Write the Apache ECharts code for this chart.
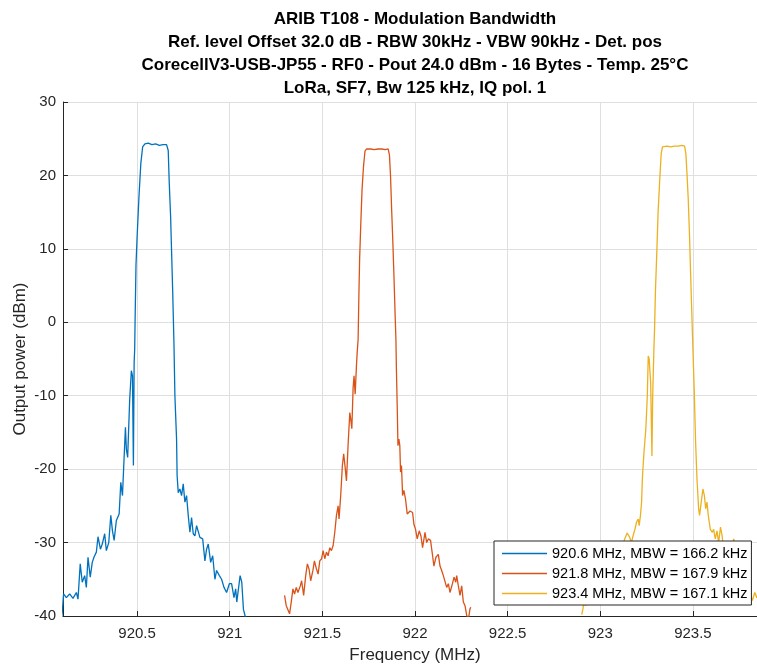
<!DOCTYPE html>
<html>
<head>
<meta charset="utf-8">
<title>ARIB T108 - Modulation Bandwidth</title>
<script src="https://cdn.jsdelivr.net/npm/echarts@6/dist/echarts.min.js"></script>
<style>
  html, body { margin: 0; padding: 0; background: #fff; }
  #chart { width: 757px; height: 664px; }
</style>
</head>
<body>
<div id="chart"></div>
<script>
// title lines
const titleLines = [
  "ARIB T108 - Modulation Bandwidth",
  "Ref. level Offset 32.0 dB - RBW 30kHz - VBW 90kHz - Det. pos",
  "CorecellV3-USB-JP55 - RF0 - Pout 24.0 dBm - 16 Bytes - Temp. 25°C",
  "LoRa, SF7, Bw 125 kHz, IQ pol. 1",
];

const legendLabels = [
  "920.6 MHz, MBW = 166.2 kHz",
  "921.8 MHz, MBW = 167.9 kHz",
  "923.4 MHz, MBW = 167.1 kHz",
];

// [frequency MHz, power dBm]
const trace9206 = [
  [920.085, -41.5], [920.096, -39.5], [920.103, -37.0], [920.118, -37.5], [920.136, -37.0],
  [920.154, -37.6], [920.172, -36.8], [920.181, -37.7], [920.193, -32.9], [920.204, -35.4],
  [920.217, -34.5], [920.226, -36.1], [920.235, -32.0], [920.247, -34.7], [920.258, -32.7],
  [920.267, -32.0], [920.280, -31.3], [920.289, -29.2], [920.302, -30.9], [920.312, -30.2],
  [920.325, -28.8], [920.334, -31.1], [920.347, -30.0], [920.358, -26.3], [920.367, -28.4],
  [920.376, -29.7], [920.388, -27.0], [920.403, -26.1], [920.412, -21.8], [920.421, -23.6],
  [920.428, -19.5], [920.437, -14.3], [920.442, -17.3], [920.449, -18.4], [920.460, -10.5],
  [920.469, -6.6], [920.475, -7.3], [920.480, -19.5], [920.484, -5.5], [920.487, -3.6],
  [920.489, 0.0], [920.494, 7.8], [920.500, 11.6], [920.510, 17.1], [920.520, 21.6],
  [920.530, 23.9], [920.542, 24.3], [920.560, 24.4], [920.580, 24.2], [920.600, 24.3],
  [920.620, 24.1], [920.640, 24.2], [920.659, 24.2], [920.668, 23.4], [920.673, 19.3],
  [920.681, 14.3], [920.686, 9.7], [920.692, 4.3], [920.699, -3.0], [920.704, -10.0],
  [920.713, -15.9], [920.716, -20.9], [920.722, -23.2], [920.731, -22.7], [920.740, -23.6],
  [920.749, -22.0], [920.758, -24.5], [920.767, -23.6], [920.776, -26.3], [920.785, -28.6],
  [920.794, -26.6], [920.803, -28.8], [920.812, -29.1], [920.821, -27.7], [920.839, -29.3],
  [920.854, -29.5], [920.866, -32.5], [920.875, -30.9], [920.884, -30.2], [920.897, -32.7],
  [920.908, -31.8], [920.920, -35.0], [920.929, -33.8], [920.944, -34.5], [920.956, -35.0],
  [920.969, -36.1], [920.983, -36.8], [920.998, -35.6], [921.010, -35.6], [921.023, -37.5],
  [921.032, -36.3], [921.038, -38.1], [921.047, -36.3], [921.056, -34.5], [921.065, -35.4],
  [921.074, -39.1], [921.083, -40.0], [921.095, -41.5],
];

const trace9218 = [
  [921.296, -37.2], [921.305, -38.6], [921.314, -38.4], [921.323, -39.7], [921.332, -38.1],
  [921.341, -36.3], [921.350, -37.0], [921.359, -36.1], [921.368, -36.8], [921.381, -35.9],
  [921.388, -35.2], [921.399, -37.2], [921.410, -34.5], [921.419, -32.9], [921.428, -33.6],
  [921.437, -35.2], [921.449, -33.8], [921.457, -32.5], [921.468, -33.6], [921.477, -34.3],
  [921.486, -32.5], [921.496, -32.2], [921.504, -31.1], [921.513, -32.2], [921.522, -31.3],
  [921.531, -31.8], [921.540, -30.7], [921.549, -31.1], [921.558, -30.4], [921.567, -28.6],
  [921.576, -26.3], [921.585, -25.0], [921.590, -26.8], [921.599, -23.6], [921.608, -19.5],
  [921.615, -17.9], [921.623, -19.8], [921.630, -21.6], [921.639, -16.6], [921.648, -12.3],
  [921.653, -13.2], [921.659, -14.5], [921.666, -8.9], [921.671, -7.3], [921.677, -9.8],
  [921.684, -5.9], [921.688, -4.1], [921.693, -2.3], [921.697, 3.5], [921.701, 8.5],
  [921.707, 13.1], [921.714, 18.0], [921.722, 21.2], [921.730, 23.3], [921.738, 23.6],
  [921.760, 23.6], [921.780, 23.5], [921.800, 23.6], [921.820, 23.6], [921.840, 23.5],
  [921.855, 23.6], [921.862, 22.8], [921.868, 19.9], [921.874, 15.3], [921.880, 11.2],
  [921.887, 5.8], [921.893, 0.8], [921.897, -2.3], [921.900, -6.8], [921.904, -11.4],
  [921.908, -16.8], [921.913, -15.9], [921.918, -16.8], [921.922, -20.4], [921.927, -19.5],
  [921.933, -23.6], [921.940, -22.9], [921.949, -24.1], [921.958, -26.1], [921.973, -25.7],
  [921.987, -25.9], [921.994, -27.5], [922.003, -28.2], [922.012, -29.5], [922.023, -28.4],
  [922.032, -29.1], [922.041, -30.7], [922.054, -28.6], [922.063, -30.0], [922.072, -29.5],
  [922.084, -29.7], [922.095, -31.8], [922.102, -33.2], [922.113, -32.0], [922.126, -31.6],
  [922.135, -33.2], [922.144, -33.8], [922.153, -34.5], [922.162, -34.7], [922.171, -36.1],
  [922.180, -35.6], [922.189, -36.8], [922.202, -35.6], [922.211, -34.7], [922.220, -35.4],
  [922.225, -34.5], [922.234, -35.9], [922.243, -37.2], [922.252, -35.9], [922.261, -38.1],
  [922.270, -38.6], [922.279, -39.9], [922.288, -40.5], [922.297, -39.0], [922.301, -38.8],
];

const trace9234 = [
  [922.900, -39.8], [922.906, -39.1], [922.912, -38.0], [922.920, -38.6], [922.928, -38.2],
  [922.935, -38.5], [922.950, -37.0], [922.970, -36.2], [922.990, -35.0], [923.010, -34.6],
  [923.030, -33.5], [923.050, -33.8], [923.070, -32.6], [923.090, -31.8], [923.110, -31.0],
  [923.120, -30.4], [923.132, -29.5], [923.145, -28.7], [923.159, -29.3], [923.168, -30.0],
  [923.178, -29.0], [923.187, -28.2], [923.196, -27.2], [923.205, -26.8], [923.210, -27.7],
  [923.217, -26.3], [923.223, -24.5], [923.228, -20.9], [923.236, -17.7], [923.246, -14.5],
  [923.254, -10.0], [923.259, -4.6], [923.264, -5.0], [923.272, -8.2], [923.279, -18.2],
  [923.283, -10.0], [923.290, -3.2], [923.293, -1.0], [923.298, 4.4], [923.305, 9.4],
  [923.312, 14.9], [923.321, 19.4], [923.329, 23.0], [923.336, 23.9], [923.360, 24.0],
  [923.380, 23.9], [923.400, 24.0], [923.420, 24.0], [923.440, 24.1], [923.455, 24.0],
  [923.462, 23.0], [923.468, 20.3], [923.475, 16.7], [923.482, 11.7], [923.487, 7.2],
  [923.493, 2.2], [923.498, -1.9], [923.502, -5.1], [923.507, -9.1], [923.514, -15.9],
  [923.522, -21.3], [923.531, -25.4], [923.536, -26.3], [923.543, -24.9], [923.554, -22.7],
  [923.562, -23.6], [923.569, -25.4], [923.576, -24.5], [923.583, -26.3], [923.594, -28.2],
  [923.605, -28.6], [923.612, -28.2], [923.621, -29.5], [923.630, -28.4], [923.639, -30.0],
  [923.649, -27.9], [923.658, -29.1], [923.663, -30.5], [923.680, -31.8], [923.700, -30.9],
  [923.721, -29.5], [923.740, -32.8], [923.770, -34.9], [923.800, -36.4], [923.821, -37.9],
  [923.834, -36.8], [923.845, -37.5], [923.860, -37.0], [923.880, -38.0], [923.900, -37.5],
];

const traces = [trace9206, trace9218, trace9234];
const colors = ["#0072BD", "#D95319", "#EDB120"];

const font = "'Liberation Sans', Arial, Helvetica, sans-serif";
const axisColor = "#262626";

const chart = echarts.init(document.getElementById("chart"));

chart.setOption({
  animation: false,
  backgroundColor: "#fff",
  title: {
    text: titleLines.join("\n"),
    left: 415,
    top: 8,
    textAlign: "center",
    padding: 0,
    textStyle: {
      fontFamily: font,
      fontSize: 17,
      fontWeight: "bold",
      color: "#000",
      lineHeight: 23,
    },
  },
  grid: {
    left: 63,
    top: 102,
    width: 704,
    height: 514,
    containLabel: false,
    outerBoundsMode: "none",
  },
  legend: {
    orient: "vertical",
    left: 494,
    top: 541,
    icon: "path://M0,0 L45,0 L45,1.6 L0,1.6 Z",
    itemWidth: 45,
    itemHeight: 12,
    itemGap: 5,
    padding: [5, 4, 4, 8],
    backgroundColor: "#fff",
    borderColor: axisColor,
    borderWidth: 1,
    borderRadius: 0,
    textStyle: { fontFamily: font, fontSize: 14.5, color: "#000" },
    data: legendLabels,
  },
  xAxis: {
    type: "value",
    min: 920.1,
    max: 923.9,
    splitNumber: 8,
    minInterval: 0.5,
    maxInterval: 0.5,
    name: "Frequency (MHz)",
    nameLocation: "middle",
    nameGap: 31,
    nameMoveOverlap: false,
    nameTextStyle: { fontFamily: font, fontSize: 17, color: axisColor },
    axisLine: { onZero: false, lineStyle: { color: axisColor, width: 1 } },
    axisTick: { inside: true, length: 5, lineStyle: { color: axisColor } },
    axisLabel: {
      color: axisColor,
      fontFamily: font,
      fontSize: 15,
      margin: 10,
      showMinLabel: false,
      showMaxLabel: false,
      formatter: (v) => {
        if (Math.abs(v * 2 - Math.round(v * 2)) > 1e-6) return "";
        return String(Math.round(v * 10) / 10);
      },
    },
    splitLine: { show: true, lineStyle: { color: "#dfdfdf", width: 1 } },
  },
  yAxis: {
    type: "value",
    min: -40,
    max: 30,
    interval: 10,
    name: "Output power (dBm)",
    nameLocation: "middle",
    nameGap: 34,
    nameMoveOverlap: false,
    nameTextStyle: { fontFamily: font, fontSize: 17, color: axisColor },
    axisLine: { show: true, onZero: false, lineStyle: { color: axisColor, width: 1 } },
    axisTick: { show: true, inside: true, length: 5, lineStyle: { color: axisColor } },
    axisLabel: { color: axisColor, fontFamily: font, fontSize: 15, margin: 7 },
    splitLine: { show: true, lineStyle: { color: "#dfdfdf", width: 1 } },
  },
  series: traces.map((data, i) => ({
    name: legendLabels[i],
    type: "line",
    data: data,
    symbol: "none",
    showSymbol: false,
    clip: true,
    color: colors[i],
    lineStyle: { color: colors[i], width: 1.3 },
  })),
});
</script>
</body>
</html>
